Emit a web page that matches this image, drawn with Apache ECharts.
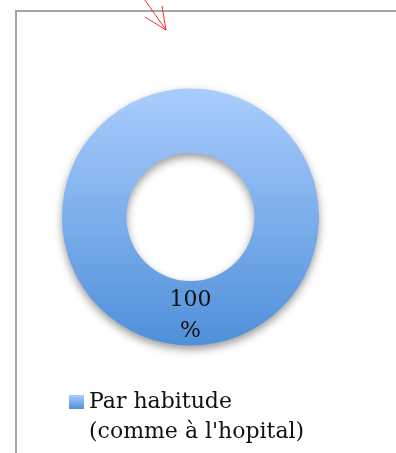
<!DOCTYPE html>
<html>
<head>
<meta charset="utf-8">
<style>
  html, body { margin: 0; padding: 0; background: #ffffff; }
  #chart { width: 396px; height: 453px; }
</style>
<script src="https://cdn.jsdelivr.net/npm/echarts@6/dist/echarts.min.js"></script>
</head>
<body>
<div id="chart"></div>
<script>
// Reasons given (share of answers, %)
const categories = ["Par habitude\n(comme à l'hopital)"];
const shares = [100];

const chart = echarts.init(document.getElementById('chart'), null, { renderer: 'canvas' });

const ringFill = new echarts.graphic.LinearGradient(0, 0, 0, 1, [
  { offset: 0, color: '#aacdfd' },
  { offset: 1, color: '#4f90da' }
]);

const option = {
  animation: false,
  backgroundColor: '#ffffff',
  legend: {
    orient: 'vertical',
    left: 69,
    top: 357,
    padding: 0,
    itemWidth: 15,
    itemHeight: 14,
    icon: 'rect',
    selectedMode: false,
    data: categories,
    // a blank first line keeps the marker level with the first text line
    formatter: name => '\n' + name,
    textStyle: {
      fontFamily: 'DejaVu Serif',
      fontSize: 22,
      lineHeight: 30,
      color: '#111111'
    }
  },
  graphic: [
    // frame of the chart area
    { type: 'polyline', silent: true,
      shape: { points: [[16, 453], [16, 11], [396, 11]] },
      style: { stroke: '#a4a4a4', lineWidth: 2, fill: null } },
    // red arrow pointing into the frame
    { type: 'line', silent: true,
      shape: { x1: 142, y1: -4, x2: 166, y2: 30 },
      style: { stroke: '#ff2a2a', lineWidth: 1 } },
    { type: 'line', silent: true,
      shape: { x1: 162, y1: 6, x2: 166, y2: 30 },
      style: { stroke: '#ff2a2a', lineWidth: 1 } },
    { type: 'line', silent: true,
      shape: { x1: 145, y1: 17, x2: 166, y2: 30 },
      style: { stroke: '#ff2a2a', lineWidth: 1 } }
  ],
  series: [{
    type: 'pie',
    center: [190.5, 217],
    radius: [64, 128.5],
    startAngle: 90,
    clockwise: true,
    emphasis: { disabled: true },
    itemStyle: {
      color: ringFill,
      borderWidth: 0,
      shadowBlur: 9,
      shadowOffsetY: 4,
      shadowColor: 'rgba(0,0,0,0.4)'
    },
    label: {
      show: true,
      position: 'inside',
      formatter: '{d}\n%',
      fontFamily: 'DejaVu Serif',
      fontSize: 22,
      lineHeight: 31,
      color: '#111111',
      textBorderWidth: 0
    },
    labelLine: { show: false },
    data: categories.map((name, i) => ({ name: name, value: shares[i] }))
  }]
};

chart.setOption(option);
</script>
</body>
</html>
